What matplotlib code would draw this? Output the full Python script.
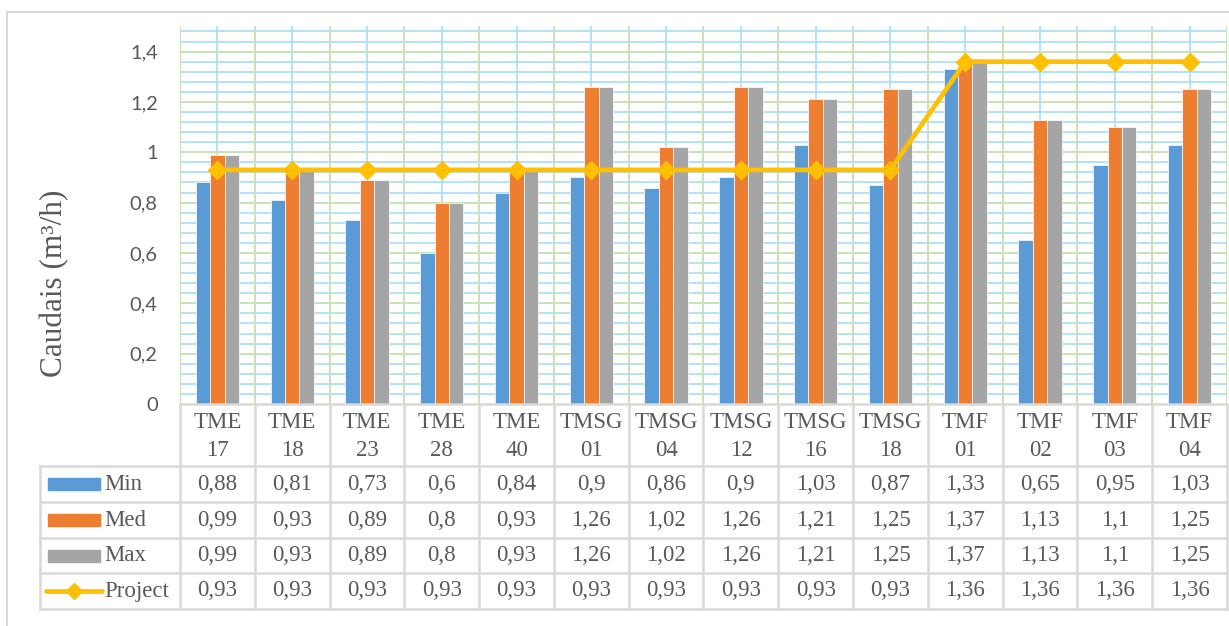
import matplotlib
matplotlib.use("Agg")
import matplotlib.pyplot as plt
import numpy as np
from matplotlib.patches import Rectangle

# ---- data ----
categories = ["TME\n17", "TME\n18", "TME\n23", "TME\n28", "TME\n40",
              "TMSG\n01", "TMSG\n04", "TMSG\n12", "TMSG\n16", "TMSG\n18",
              "TMF\n01", "TMF\n02", "TMF\n03", "TMF\n04"]
q_min = [0.88, 0.81, 0.73, 0.6, 0.84, 0.9, 0.86, 0.9, 1.03, 0.87, 1.33, 0.65, 0.95, 1.03]
q_med = [0.99, 0.93, 0.89, 0.8, 0.93, 1.26, 1.02, 1.26, 1.21, 1.25, 1.37, 1.13, 1.1, 1.25]
q_max = [0.99, 0.93, 0.89, 0.8, 0.93, 1.26, 1.02, 1.26, 1.21, 1.25, 1.37, 1.13, 1.1, 1.25]
q_project = [0.93, 0.93, 0.93, 0.93, 0.93, 0.93, 0.93, 0.93, 0.93, 0.93, 1.36, 1.36, 1.36, 1.36]
series_names = ["Min", "Med", "Max", "Project"]
y_ticks = [0, 0.2, 0.4, 0.6, 0.8, 1.0, 1.2, 1.4]

C_MIN, C_MED, C_MAX, C_PROJ = "#5B9BD5", "#ED7D31", "#A5A5A5", "#FFC000"
GRID_MAJ, GRID_MIN = "#C9E2B8", "#A6DDF5"
TXT = "#595959"
TABLE_LINE = "#D9D9D9"
SERIF = ["Liberation Serif", "DejaVu Serif"]

W, H = 1229, 626
fig = plt.figure(figsize=(W / 100, H / 100), dpi=100)

def fx(px):
    return px / W

def fy(py):
    return 1 - py / H

# chart-area border
fig.patches.append(Rectangle((fx(7), fy(640)), fx(1240 - 7), fy(12) - fy(640),
                             transform=fig.transFigure, fill=False,
                             edgecolor=TABLE_LINE, linewidth=1.5))

# ---- plot area ----
PL, PR, PT, PB = 180, 1227, 26.4, 404
n = len(categories)
ax = fig.add_axes([fx(PL), fy(PB), fx(PR - PL), fy(PT) - fy(PB)])
ax.set_xlim(-0.5, n - 0.5)
ax.set_ylim(0, 1.5)
x = np.arange(n)

# gridlines
for yv in np.arange(0.04, 1.5001, 0.04):
    if abs(yv / 0.2 - round(yv / 0.2)) > 1e-6:
        ax.axhline(yv, color=GRID_MIN, lw=1.2, zorder=0)
for yv in np.arange(0.2, 1.5001, 0.2):
    ax.axhline(yv, color=GRID_MAJ, lw=1.4, zorder=0.5)
for xv in x:
    ax.axvline(xv, color=GRID_MIN, lw=1.2, zorder=0.4)
for xv in np.arange(-0.5, n, 1.0):
    ax.axvline(xv, color=GRID_MAJ, lw=1.4, zorder=0.5)

bw = 0.193
ax.bar(x - bw, q_min, bw, color=C_MIN, edgecolor="white", linewidth=0.5, zorder=2)
ax.bar(x, q_med, bw, color=C_MED, edgecolor="white", linewidth=0.5, zorder=2)
ax.bar(x + bw, q_max, bw, color=C_MAX, edgecolor="white", linewidth=0.5, zorder=2)
ax.plot(x, q_project, color=C_PROJ, lw=3.4, marker="D", markersize=9.5,
        markerfacecolor=C_PROJ, markeredgecolor=C_PROJ, zorder=4, clip_on=False)

for s in ax.spines.values():
    s.set_visible(False)
ax.set_xticks([])
ax.set_yticks(y_ticks)
ax.set_yticklabels([("%g" % v).replace(".", ",") for v in y_ticks],
                   fontsize=14.5, color=TXT, family="Lato")
ax.tick_params(axis="y", length=0, pad=16)
ax.set_facecolor("none")

fig.text(fx(55), fy(283), "Caudais (m³/h)", rotation=90, ha="center", va="center",
         fontsize=22.5, color=TXT, family=SERIF)

# ---- data table ----
col_w = (PR - PL) / n
TL = 40
rows_y = [404, 466, 502, 538, 573, 609]
tax = fig.add_axes([fx(TL), fy(rows_y[-1]), fx(PR - TL), fy(rows_y[0]) - fy(rows_y[-1])])
x_left = -0.5 - (PL - TL) / col_w
tax.set_xlim(x_left, n - 0.5)
tax.set_ylim(rows_y[-1], rows_y[0])
tax.axis("off")

lw_t = 1.8
# horizontal rules
tax.plot([-0.5, n - 0.5], [rows_y[0], rows_y[0]], color=TABLE_LINE, lw=lw_t, clip_on=False)
for ry in rows_y[1:]:
    tax.plot([x_left, n - 0.5], [ry, ry], color=TABLE_LINE, lw=lw_t, clip_on=False)
# vertical rules
tax.plot([x_left, x_left], [rows_y[1], rows_y[-1]], color=TABLE_LINE, lw=lw_t, clip_on=False)
for xv in np.arange(-0.5, n - 0.4, 1.0):
    tax.plot([xv, xv], [rows_y[0], rows_y[-1]], color=TABLE_LINE, lw=lw_t, clip_on=False)

# header row with category names
for i, c in enumerate(categories):
    top, bottom = c.split("\n")
    tax.text(i, 422, top, ha="center", va="center", fontsize=16.5, color=TXT, family=SERIF)
    tax.text(i, 450, bottom, ha="center", va="center", fontsize=16.5, color=TXT, family=SERIF)

series_vals = [q_min, q_med, q_max, q_project]
key_colors = [C_MIN, C_MED, C_MAX, C_PROJ]
for r, (name, vals, col) in enumerate(zip(series_names, series_vals, key_colors)):
    yc = (rows_y[r + 1] + rows_y[r + 2]) / 2
    k0 = x_left + (48 - TL) / col_w
    k1 = x_left + (100 - TL) / col_w
    if name == "Project":
        tax.plot([x_left + (46 - TL) / col_w, x_left + (102 - TL) / col_w], [yc, yc],
                 color=col, lw=3.4, solid_capstyle="round", clip_on=False)
        tax.plot([(k0 + k1) / 2], [yc], marker="D", markersize=8, color=col, clip_on=False)
    else:
        tax.add_patch(Rectangle((k0, yc - 6), k1 - k0, 12, color=col, clip_on=False))
    tax.text(x_left + (104 - TL) / col_w, yc, name, ha="left", va="center",
             fontsize=16.5, color=TXT, family=SERIF)
    for i, v in enumerate(vals):
        tax.text(i, yc, ("%g" % v).replace(".", ","), ha="center", va="center",
                 fontsize=16.5, color=TXT, family=SERIF)

fig.savefig("out.png", dpi=100)
